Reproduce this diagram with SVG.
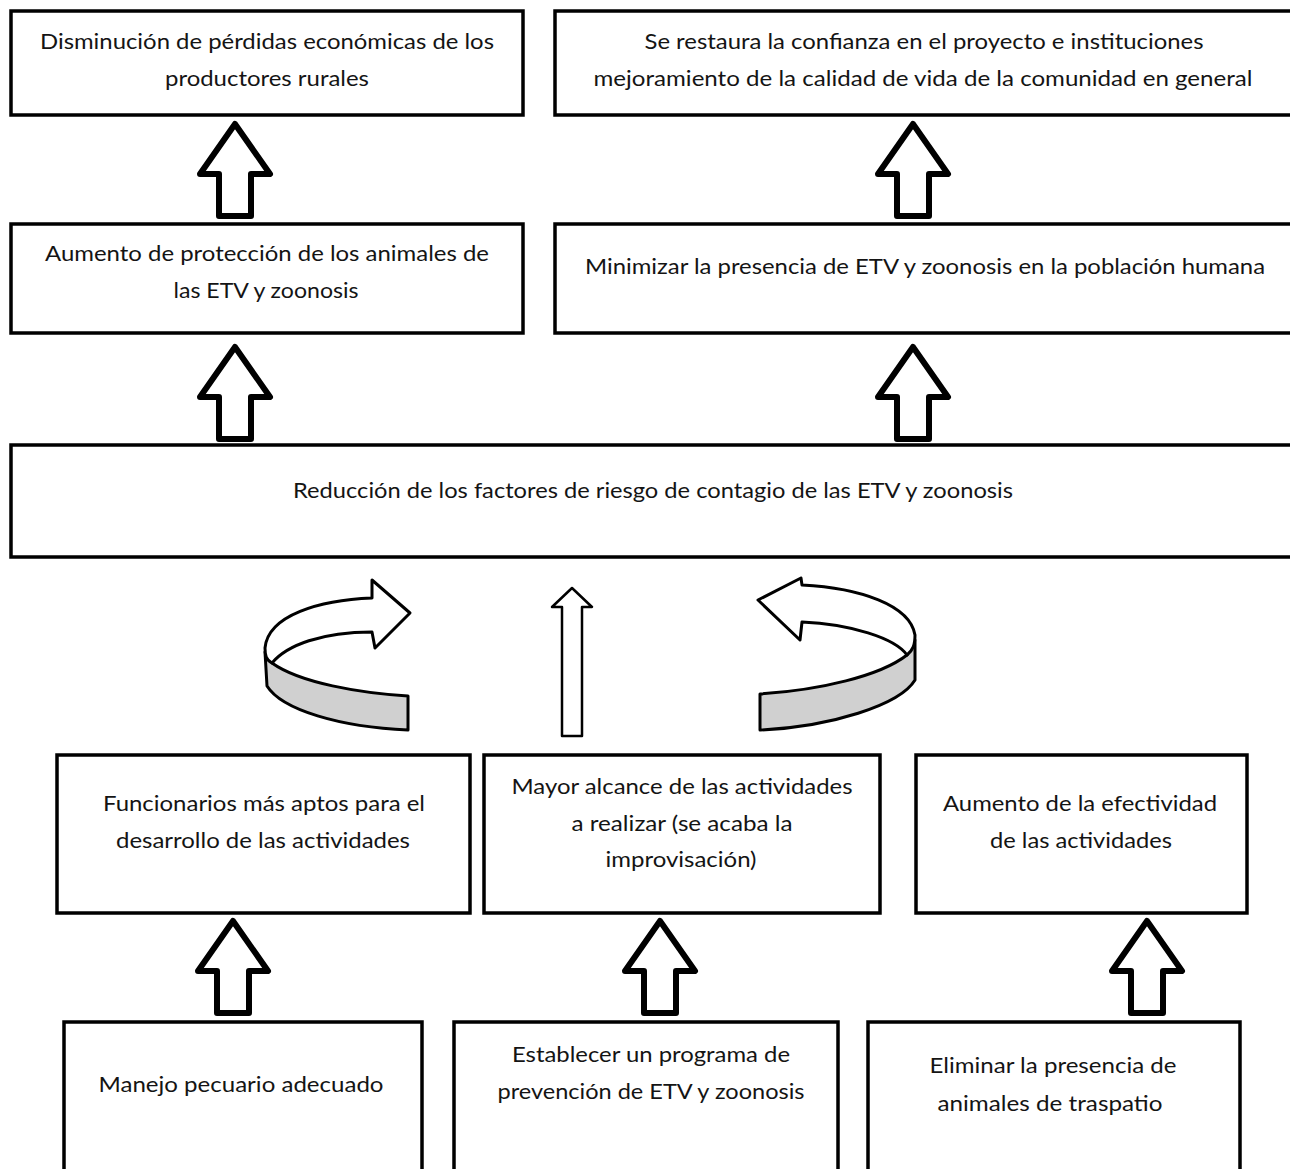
<svg xmlns="http://www.w3.org/2000/svg" width="1290" height="1169" viewBox="0 0 1290 1169">
<style>
.box{fill:#fff;stroke:#000;stroke-width:3.5}
.t{font-family:Lato,"Open Sans","Liberation Sans",sans-serif;font-size:21px;fill:#141414;text-anchor:middle}
.ba{fill:#fff;stroke:#000;stroke-width:6;stroke-linejoin:round}
.thin{fill:#fff;stroke:#000;stroke-width:2.5;stroke-linejoin:round}
.gray{fill:#d0d0d0;stroke:#000;stroke-width:3;stroke-linejoin:round}
.wht{fill:#fff;stroke:#000;stroke-width:3;stroke-linejoin:round}
</style>
<defs>
<path id="up" d="M0,0 L35,50 L16,50 L16,92 L-16,92 L-16,50 L-35,50 Z"/>
</defs>
<rect width="1290" height="1169" fill="#fff"/>

<g id="connectors">
<use href="#up" class="ba" x="235" y="124"/>
<use href="#up" class="ba" x="913" y="124"/>
<use href="#up" class="ba" x="235" y="347"/>
<use href="#up" class="ba" x="913" y="347"/>
<use href="#up" class="ba" x="233" y="921"/>
<use href="#up" class="ba" x="660" y="921"/>
<use href="#up" class="ba" x="1147" y="921"/>
<g id="curved-left">
<path class="gray" d="M272,663 C300,683 360,693 408,696 L408,730 C340,727 282,710 267,686 L265,652 Z"/>
<path class="wht" d="M265,648 C268,615 320,600 372,598 L372,580 L410,613 L375,648 L372,632 C322,632 287,645 272,663 C266,660 265,655 265,648 Z"/>
</g>
<g id="straight-mid">
<path class="thin" d="M572,588 L592,607 L582,607 L582,736 L562,736 L562,607 L552,607 Z"/>
</g>
<g id="curved-right">
<path class="gray" d="M907,655 C880,676 820,690 760,694 L760,730 C830,727 900,705 915,680 L915,640 Z"/>
<path class="wht" d="M802,585 L801,578 L758,600 L800,640 L802,622 C850,624 895,638 907,655 C913,650 915,645 915,635 C910,605 860,588 802,585 Z"/>
</g>
</g>

<g id="n1"><rect class="box" x="11" y="11" width="512" height="104"/>
<text class="t" x="267" y="49" textLength="454" lengthAdjust="spacingAndGlyphs">Disminución de pérdidas económicas de los</text>
<text class="t" x="267" y="86" textLength="204" lengthAdjust="spacingAndGlyphs">productores rurales</text></g>

<g id="n2"><rect class="box" x="555" y="11" width="740" height="104"/>
<text class="t" x="924" y="49" textLength="559" lengthAdjust="spacingAndGlyphs">Se restaura la confianza en el proyecto e instituciones</text>
<text class="t" x="923" y="86" textLength="659" lengthAdjust="spacingAndGlyphs">mejoramiento de la calidad de vida de la comunidad en general</text></g>

<g id="n3"><rect class="box" x="11" y="224" width="512" height="109"/>
<text class="t" x="267" y="261" textLength="444" lengthAdjust="spacingAndGlyphs">Aumento de protección de los animales de</text>
<text class="t" x="266" y="298" textLength="185" lengthAdjust="spacingAndGlyphs">las ETV y zoonosis</text></g>

<g id="n4"><rect class="box" x="555" y="224" width="740" height="109"/>
<text class="t" x="925" y="274" textLength="680" lengthAdjust="spacingAndGlyphs">Minimizar la presencia de ETV y zoonosis en la población humana</text></g>

<g id="n5"><rect class="box" x="11" y="445" width="1284" height="112"/>
<text class="t" x="653" y="498" textLength="720" lengthAdjust="spacingAndGlyphs">Reducción de los factores de riesgo de contagio de las ETV y zoonosis</text></g>

<g id="n6"><rect class="box" x="57" y="755" width="413" height="158"/>
<text class="t" x="264" y="811" textLength="322" lengthAdjust="spacingAndGlyphs">Funcionarios más aptos para el</text>
<text class="t" x="263" y="848" textLength="294" lengthAdjust="spacingAndGlyphs">desarrollo de las actividades</text></g>

<g id="n7"><rect class="box" x="484" y="755" width="396" height="158"/>
<text class="t" x="682" y="794" textLength="341" lengthAdjust="spacingAndGlyphs">Mayor alcance de las actividades</text>
<text class="t" x="682" y="831" textLength="221" lengthAdjust="spacingAndGlyphs">a realizar (se acaba la</text>
<text class="t" x="681" y="867" textLength="151" lengthAdjust="spacingAndGlyphs">improvisación)</text></g>

<g id="n8"><rect class="box" x="916" y="755" width="331" height="158"/>
<text class="t" x="1080" y="811" textLength="274" lengthAdjust="spacingAndGlyphs">Aumento de la efectividad</text>
<text class="t" x="1081" y="848" textLength="182" lengthAdjust="spacingAndGlyphs">de las actividades</text></g>

<g id="n9"><rect class="box" x="64" y="1022" width="358" height="160"/>
<text class="t" x="241" y="1092" textLength="285" lengthAdjust="spacingAndGlyphs">Manejo pecuario adecuado</text></g>

<g id="n10"><rect class="box" x="454" y="1022" width="384" height="160"/>
<text class="t" x="651" y="1062" textLength="278" lengthAdjust="spacingAndGlyphs">Establecer un programa de</text>
<text class="t" x="651" y="1099" textLength="307" lengthAdjust="spacingAndGlyphs">prevención de ETV y zoonosis</text></g>

<g id="n11"><rect class="box" x="868" y="1022" width="372" height="160"/>
<text class="t" x="1053" y="1073" textLength="247" lengthAdjust="spacingAndGlyphs">Eliminar la presencia de</text>
<text class="t" x="1050" y="1111" textLength="225" lengthAdjust="spacingAndGlyphs">animales de traspatio</text></g>
</svg>
